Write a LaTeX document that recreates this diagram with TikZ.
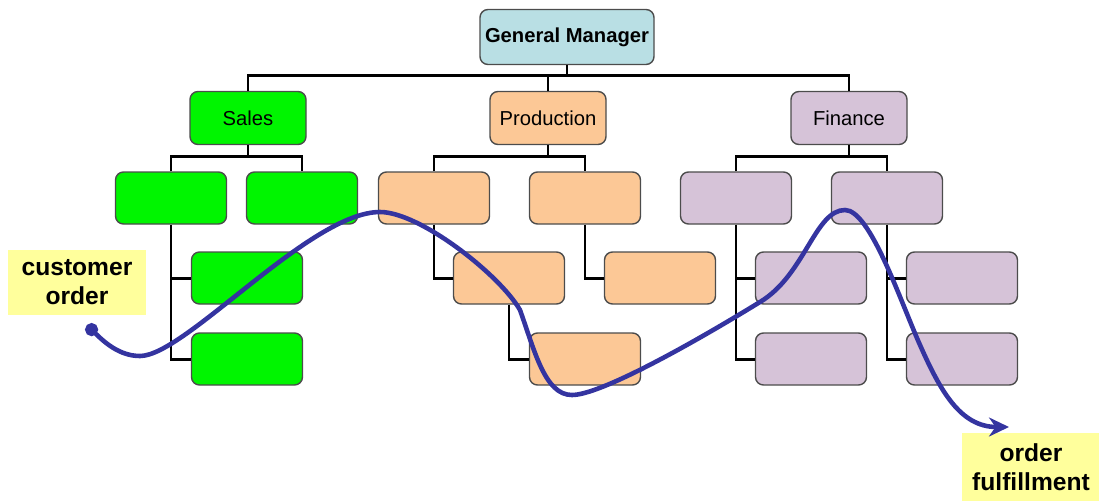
\documentclass[tikz,border=0pt]{standalone}
\usepackage{fontspec}
\setmainfont{Liberation Sans}
\usepackage{xcolor}
\usetikzlibrary{arrows.meta,positioning}
\definecolor{gmcyan}{HTML}{B9DFE4}
\definecolor{salesgreen}{HTML}{00F500}
\definecolor{prodorange}{HTML}{FCC896}
\definecolor{finpurple}{HTML}{D6C3D8}
\definecolor{noteyellow}{HTML}{FFFF9C}
\definecolor{flowblue}{HTML}{3434A0}

\begin{document}
\begin{tikzpicture}[
  x=0.2mm, y=-0.2mm,
  box/.style={rectangle, draw=black!70, line width=0.8pt, rounded corners=1.6mm,
              minimum width=22.2mm, minimum height=10.4mm, inner sep=0pt,
              font=\fontsize{11.5}{13}\selectfont},
  head/.style={box, minimum width=23.2mm, minimum height=10.6mm},
  note/.style={rectangle, fill=noteyellow, inner sep=0pt, align=center,
               font=\bfseries\fontsize{14}{16.5}\selectfont},
  link/.style={line width=1.7pt, black},
  flow/.style={{Circle[length=2.6mm]}-{Stealth[length=4mm, width=3.8mm]},
               line width=2.6pt, flowblue}
]
\useasboundingbox (0,0) rectangle (1099,501);

\node[box, fill=gmcyan, minimum width=34.8mm, minimum height=11mm,
      font=\bfseries\fontsize{11.5}{13}\selectfont] (gm) at (567,37) {General Manager};
\node[head, fill=salesgreen] (sales) at (248,118) {Sales};
\node[head, fill=prodorange] (prod) at (548,118) {Production};
\node[head, fill=finpurple] (fin) at (849,118) {Finance};

\node[box, fill=salesgreen] (s1) at (171,198) {};
\node[box, fill=salesgreen] (s2) at (302,198) {};
\node[box, fill=salesgreen] (s3) at (247,278) {};
\node[box, fill=salesgreen] (s4) at (247,359) {};

\node[box, fill=prodorange] (p1) at (434,198) {};
\node[box, fill=prodorange] (p2) at (585,198) {};
\node[box, fill=prodorange] (p3) at (509,278) {};
\node[box, fill=prodorange] (p4) at (660,278) {};
\node[box, fill=prodorange] (p5) at (585,359) {};

\node[box, fill=finpurple] (f1) at (736,198) {};
\node[box, fill=finpurple] (f2) at (887,198) {};
\node[box, fill=finpurple] (f3) at (811,278) {};
\node[box, fill=finpurple] (f4) at (962,278) {};
\node[box, fill=finpurple] (f5) at (811,359) {};
\node[box, fill=finpurple] (f6) at (962,359) {};

\node[note, minimum width=27.6mm, minimum height=13mm] (cust) at (77,282) {customer\\order};
\node[note, minimum width=27.6mm, minimum height=13.6mm] (done) at (1031,467) {order\\fulfillment};

\draw[link] (gm.south) -- ++(0,12);
\draw[link] (sales.north) -- ++(0,-15) -| (fin.north);
\draw[link] (prod.north) -- ++(0,-15);

\draw[link] (sales.south) -- ++(0,12);
\draw[link] (s1.north) -- ++(0,-15) -| (s2.north);
\draw[link] (prod.south) -- ++(0,12);
\draw[link] (p1.north) -- ++(0,-15) -| (p2.north);
\draw[link] (fin.south) -- ++(0,12);
\draw[link] (f1.north) -- ++(0,-15) -| (f2.north);

\draw[link] (s1.south) |- (s4.west);
\draw[link] (s1.south |- s3.west) -- (s3.west);
\draw[link] (p1.south) |- (p3.west);
\draw[link] (p3.south) |- (p5.west);
\draw[link] (p2.south) |- (p4.west);
\draw[link] (f1.south) |- (f5.west);
\draw[link] (f1.south |- f3.west) -- (f3.west);
\draw[link] (f2.south) |- (f6.west);
\draw[link] (f2.south |- f4.west) -- (f4.west);

\coordinate (start) at (87,325);
\coordinate (finish) at (1009,427);
\draw[flow] (start) .. controls (105,343) and (120,356) .. (140,356)
  .. controls (185,356) and (310,212) .. (380,212)
  .. controls (420,212) and (500,275) .. (520,310)
  .. controls (535,352) and (545,395) .. (572,395)
  .. controls (600,395) and (690,345) .. (760,302)
  .. controls (805,275) and (815,210) .. (845,210)
  .. controls (870,210) and (900,300) .. (920,345)
  .. controls (940,390) and (960,427) .. (finish);
\end{tikzpicture}
\end{document}
